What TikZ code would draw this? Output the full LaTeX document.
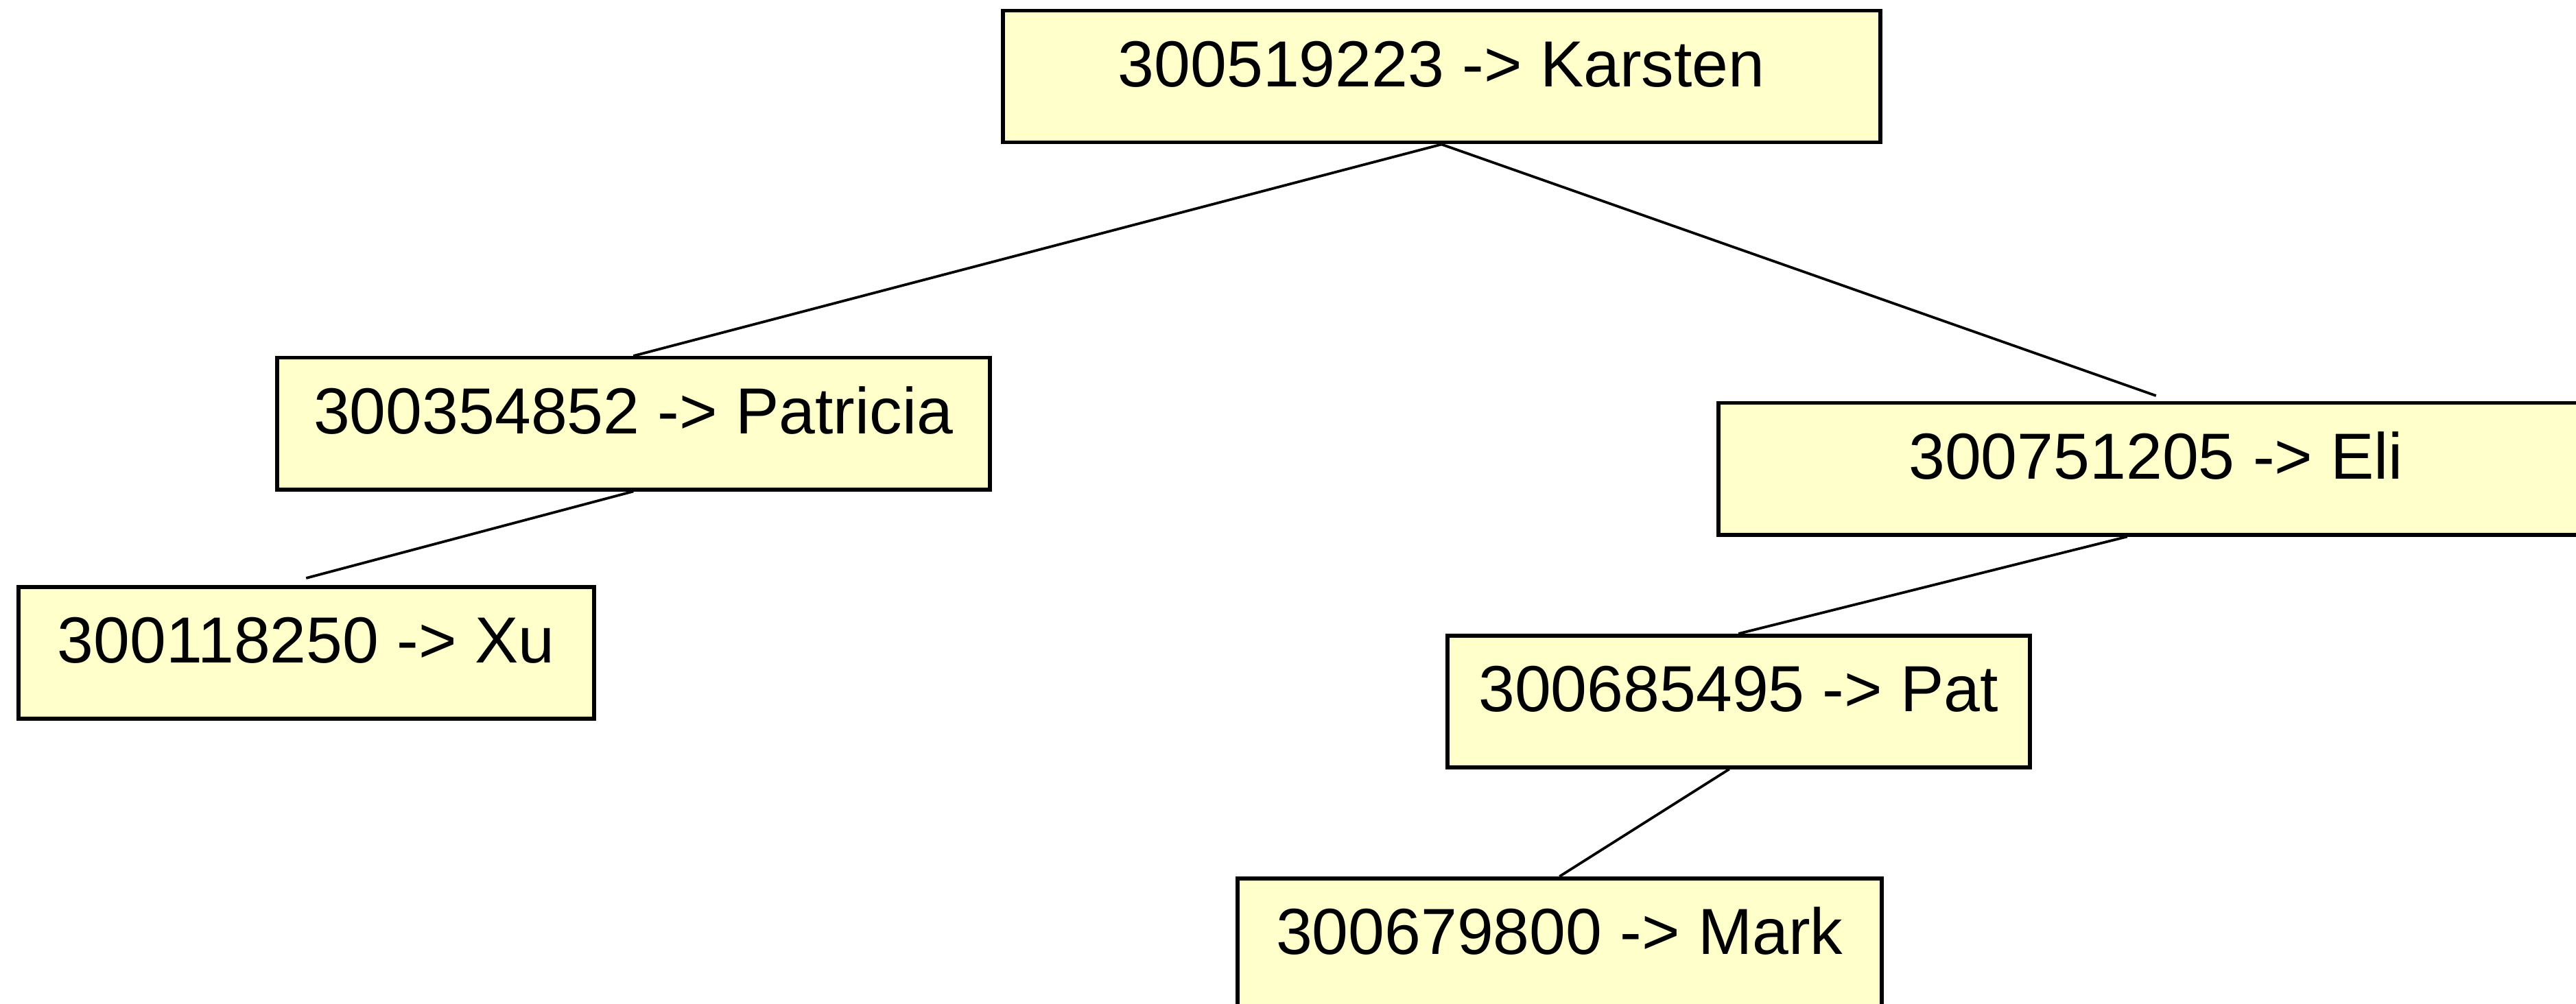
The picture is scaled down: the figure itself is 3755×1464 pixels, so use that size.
\documentclass[tikz,border=0pt]{standalone}
\usepackage{fontspec}
\setmainfont{Liberation Sans}
\definecolor{boxfill}{HTML}{FFFFCC}
\tikzset{
  entry/.style={draw=black, line width=1.1pt, fill=boxfill, rectangle,
    anchor=north west, inner xsep=0pt, inner ysep=0pt,
    text height=22.2pt, text depth=16.2pt,
    font=\fontsize{19pt}{22pt}\selectfont},
  link/.style={draw=black, line width=0.75pt}
}
\begin{document}
\begin{tikzpicture}[x=0.2pt, y=-0.2pt]
  \useasboundingbox (0,0) rectangle (3755,1464);
  \clip (0,0) rectangle (3755,1464);
  % tree entries: id -> name
  \node[entry, minimum width=255.8pt] (K)  at (1459,13)   {300519223 -> Karsten};
  \node[entry, minimum width=207.8pt] (P)  at (401,519)   {300354852 -> Patricia};
  \node[entry, minimum width=167.8pt] (X)  at (24,853)    {300118250 -> Xu};
  \node[entry, minimum width=255.2pt] (E)  at (2502,585)  {300751205 -> Eli};
  \node[entry, minimum width=169.8pt] (Pa) at (2107,924)  {300685495 -> Pat};
  \node[entry, minimum width=187.8pt] (M)  at (1801,1278) {300679800 -> Mark};
  % parent-child links
  \draw[link] (K.south) -- (P.north);
  \draw[link] (K.south) -- ([yshift=1.6pt]E.north);
  \draw[link] (P.south) -- ([yshift=2pt]X.north);
  \draw[link] ([xshift=-8.4pt]E.south) -- (Pa.north);
  \draw[link] ([xshift=-2.7pt]Pa.south) -- (M.north);
\end{tikzpicture}
\end{document}
